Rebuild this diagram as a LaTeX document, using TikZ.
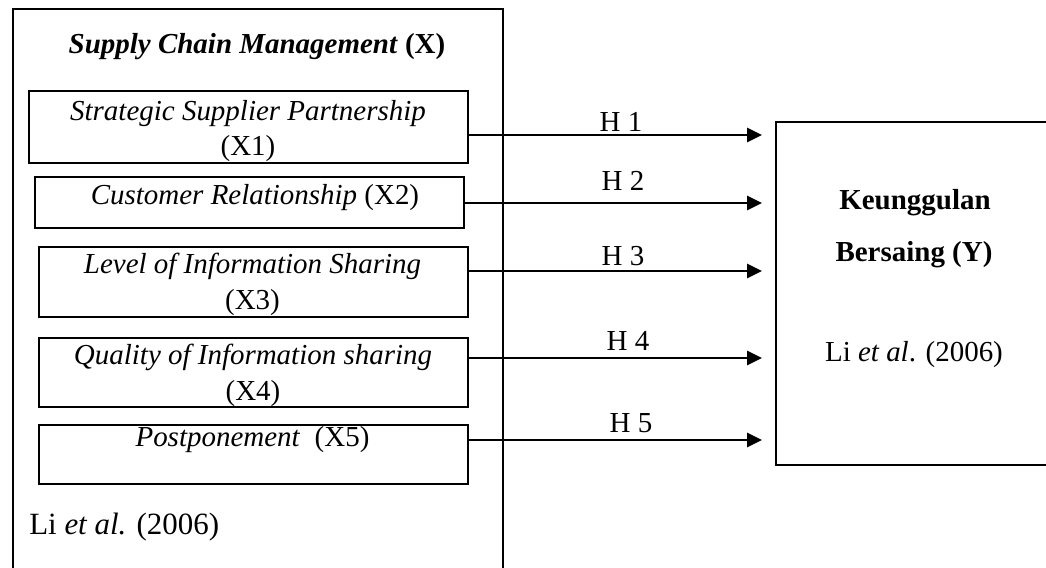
\documentclass[tikz,border=0pt]{standalone}
\usepackage{fontspec}
\setmainfont{Liberation Serif}
\usetikzlibrary{arrows.meta}

\begin{document}
\begin{tikzpicture}[
        x=0.025cm, y=-0.025cm,
        font=\fontsize{20.6}{25.5}\selectfont,
        box/.style={draw, line width=1.1pt, inner sep=0pt},
        txt/.style={inner sep=0pt, align=center},
        hyp/.style={line width=2pt, -{Triangle[length=0.375cm, width=0.35cm]}, shorten >=0.325cm},
        hlab/.style={inner sep=0pt, anchor=base}
    ]
    \useasboundingbox (0,0) rectangle (1046,567);

    % outer frame for the X variables
    \node[box, anchor=north west, minimum width=12.25cm, minimum height=14.8cm] (scm) at (12,8) {};
    \node[txt] (title) at (257,47) {\textbf{\textit{Supply Chain Management}} \textbf{(X)}};

    % dimension boxes
    \node[box, minimum width=10.975cm, minimum height=1.8cm] (x1) at (248.5,127) {};
    \node[box, minimum width=10.725cm, minimum height=1.275cm] (x2) at (249.5,202.5) {};
    \node[box, minimum width=10.725cm, minimum height=1.75cm] (x3) at (253.5,282) {};
    \node[box, minimum width=10.725cm, minimum height=1.725cm] (x4) at (253.5,372.5) {};
    \node[box, minimum width=10.725cm, minimum height=1.475cm] (x5) at (253.5,454.5) {};

    \node[txt] (t1) at (248,131) {\textit{Strategic Supplier Partnership}\\(X1)};
    \node[txt] (t2) at (255,198) {\textit{Customer Relationship} (X2)};
    \node[txt] (t3) at (252.5,284) {\textit{Level of Information Sharing}\\(X3)};
    \node[txt] (t4) at (253,375) {\textit{Quality of Information sharing}\\(X4)};
    \node[txt] (t5) at (252.5,440) {\textit{Postponement}\ \ (X5)};

    \node[txt, anchor=west, font=\fontsize{22}{26}\selectfont] (srcx) at (29,527) {Li \textit{et al.} (2006)};

    % Y variable
    \node[box, anchor=north west, minimum width=7.375cm, minimum height=8.575cm] (ybox) at (775,121) {};
    \node[txt] (y1) at (915,203) {\textbf{Keunggulan}};
    \node[txt] (y2) at (914,255) {\textbf{Bersaing (Y)}};
    \node[txt] (srcy) at (914,355) {Li \textit{et al}. (2006)};

    % hypotheses
    \coordinate (h1) at (0,135);
    \coordinate (h2) at (0,203);
    \coordinate (h3) at (0,271);
    \coordinate (h4) at (0,358);
    \coordinate (h5) at (0,440);
    \draw[hyp] (x1.east |- h1) -- (ybox.west |- h1);
    \draw[hyp] (x2.east |- h2) -- (ybox.west |- h2);
    \draw[hyp] (x3.east |- h3) -- (ybox.west |- h3);
    \draw[hyp] (x4.east |- h4) -- (ybox.west |- h4);
    \draw[hyp] (x5.east |- h5) -- (ybox.west |- h5);
    \node[hlab] (l1) at (621,131) {H 1};
    \node[hlab] (l2) at (623,190) {H 2};
    \node[hlab] (l3) at (623,265) {H 3};
    \node[hlab] (l4) at (628,350) {H 4};
    \node[hlab] (l5) at (631,432) {H 5};
\end{tikzpicture}
\end{document}
